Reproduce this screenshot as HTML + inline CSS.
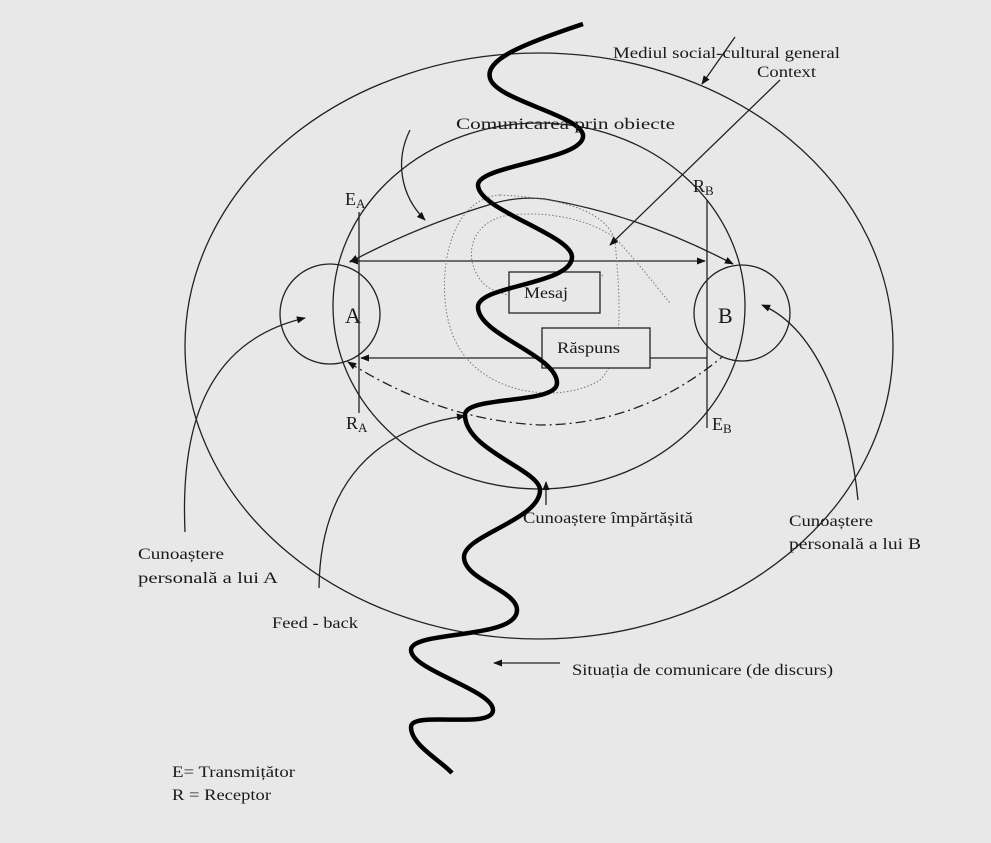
<!DOCTYPE html>
<html><head><meta charset="utf-8"><style>
html,body{margin:0;padding:0;background:#e8e8e8;}
svg{display:block;}
text{font-family:"Liberation Serif",serif;fill:#1a1a1a;}
</style></head><body>
<svg width="991" height="843" viewBox="0 0 991 843" font-size="16">
<defs>
<marker id="ah" viewBox="0 0 10 10" refX="9" refY="5" markerWidth="9" markerHeight="9" orient="auto-start-reverse" markerUnits="userSpaceOnUse"><path d="M0,1 L10,5 L0,9 z" fill="#111"/></marker>
</defs>
<rect width="991" height="843" fill="#e8e8e8"/>
<g fill="none" stroke="#222" stroke-width="1.3">
<ellipse cx="539" cy="346" rx="354" ry="293"/>
<ellipse cx="539" cy="306" rx="206" ry="183"/>
<circle cx="330" cy="314" r="50"/>
<circle cx="742" cy="313" r="48"/>
<line x1="359" y1="212" x2="359" y2="413"/>
<line x1="707" y1="200" x2="707" y2="428"/>
<line x1="350" y1="261" x2="705" y2="261" marker-start="url(#ah)" marker-end="url(#ah)"/>
<line x1="707" y1="358" x2="361" y2="358" marker-end="url(#ah)"/>
<path d="M350,262 Q420,225 495,203 Q520,196 545,199 Q640,215 733,264" marker-start="url(#ah)" marker-end="url(#ah)"/>
<path d="M348,362 Q440,420 540,425 Q640,425 722,357" stroke-dasharray="10,4,2,4" marker-start="url(#ah)"/>
<path d="M500,195 C440,200 435,300 455,340 C480,395 560,405 600,380 C625,355 620,300 615,240 C605,210 560,198 500,195 Z" stroke="#777" stroke-width="1" stroke-dasharray="1.5,2"/>
<path d="M603,275 C575,300 510,305 485,285 C460,260 470,220 510,215 C560,210 600,225 617,240 C640,265 655,285 670,303" stroke="#777" stroke-width="1" stroke-dasharray="1.5,2"/>
<rect x="509" y="272" width="91" height="41" fill="#e8e8e8"/>
<rect x="542" y="328" width="108" height="40" fill="#e8e8e8"/>
<line x1="735" y1="37" x2="702" y2="84" marker-end="url(#ah)"/>
<line x1="780" y1="80" x2="610" y2="245" marker-end="url(#ah)"/>
<path d="M410,130 C395,160 400,195 425,220" marker-end="url(#ah)"/>
<path d="M185,532 C180,420 210,340 305,318" marker-end="url(#ah)"/>
<path d="M858,500 C850,420 820,330 762,305" marker-end="url(#ah)"/>
<path d="M319,588 C320,500 360,430 465,416" marker-end="url(#ah)"/>
<line x1="546" y1="505" x2="546" y2="482" marker-end="url(#ah)"/>
<line x1="560" y1="663" x2="494" y2="663" marker-end="url(#ah)"/>
<path d="M583,24 C520,45 485,60 490,78 C495,100 580,115 583,135 C586,160 478,165 478,185 C478,210 572,235 572,257 C572,285 478,285 478,307 C478,335 557,355 557,383 C557,405 465,395 465,415 C465,450 540,470 540,490 C540,520 464,535 464,557 C464,580 517,590 517,610 C517,640 411,630 411,650 C411,670 493,690 493,710 C493,730 411,710 411,727 C411,745 440,760 452,773" stroke="#000" stroke-width="4.5"/>
</g>
<g>
<text x="613" y="58" textLength="227" lengthAdjust="spacingAndGlyphs">Mediul social-cultural general</text>
<text x="757" y="77" textLength="59" lengthAdjust="spacingAndGlyphs">Context</text>
<text x="456" y="129" textLength="219" lengthAdjust="spacingAndGlyphs">Comunicarea      prin obiecte</text>
<text x="345" y="205" style="font-size:18px">E<tspan style="font-size:13px" dy="3">A</tspan></text>
<text x="693" y="192" style="font-size:18px">R<tspan style="font-size:13px" dy="3">B</tspan></text>
<text x="345" y="323" style="font-size:22px">A</text>
<text x="718" y="323" style="font-size:22px">B</text>
<text x="346" y="429" style="font-size:18px">R<tspan style="font-size:13px" dy="3">A</tspan></text>
<text x="712" y="430" style="font-size:18px">E<tspan style="font-size:13px" dy="3">B</tspan></text>
<text x="524" y="298" textLength="44" lengthAdjust="spacingAndGlyphs">Mesaj</text>
<text x="557" y="353" textLength="63" lengthAdjust="spacingAndGlyphs">Răspuns</text>
<text x="523" y="523" textLength="170" lengthAdjust="spacingAndGlyphs">Cunoaștere împărtășită</text>
<text x="789" y="526" textLength="84" lengthAdjust="spacingAndGlyphs">Cunoaștere</text>
<text x="789" y="549" textLength="132" lengthAdjust="spacingAndGlyphs">personală a  lui B</text>
<text x="138" y="559" textLength="86" lengthAdjust="spacingAndGlyphs">Cunoaștere</text>
<text x="138" y="583" textLength="140" lengthAdjust="spacingAndGlyphs">personală a lui A</text>
<text x="272" y="628" textLength="86" lengthAdjust="spacingAndGlyphs">Feed - back</text>
<text x="572" y="675" textLength="261" lengthAdjust="spacingAndGlyphs">Situația de comunicare (de discurs)</text>
<text x="172" y="777" textLength="123" lengthAdjust="spacingAndGlyphs">E= Transmițător</text>
<text x="172" y="800" textLength="99" lengthAdjust="spacingAndGlyphs">R = Receptor</text>
</g>
</svg>
</body></html>
